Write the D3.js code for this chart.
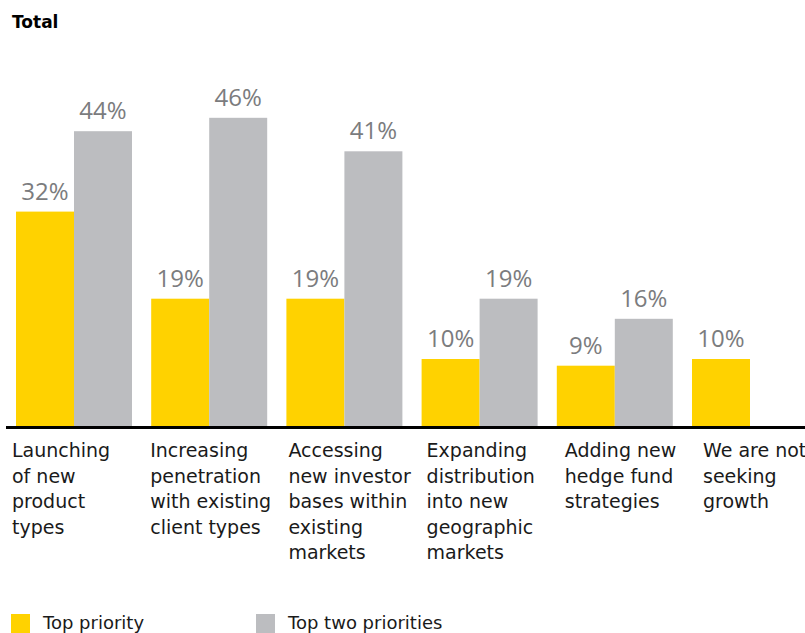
<!DOCTYPE html>
<html>
<head>
<meta charset="utf-8">
<script src="https://cdn.jsdelivr.net/npm/d3@7"></script>
<style>
  body { margin: 0; background: #fff; }
  svg { display: block; }
</style>
</head>
<body>
<script>
// chart data
const categories = [
    ["Launching", "of new", "product", "types"],
    ["Increasing", "penetration", "with existing", "client types"],
    ["Accessing", "new investor", "bases within", "existing", "markets"],
    ["Expanding", "distribution", "into new", "geographic", "markets"],
    ["Adding new", "hedge fund", "strategies"],
    ["We are not", "seeking", "growth"]
];
const topPriority = [32, 19, 19, 10, 9, 10];
const topTwo = [44, 46, 41, 19, 16, null];
const seriesNames = ["Top priority", "Top two priorities"];
const colors = ["#FFD200", "#BCBDC0"];

const width = 805, height = 633;
const baseY = 426;

let svg = d3.select("body")
    .append("svg")
    .attr("width", width)
    .attr("height", height);

// title
svg.append("text")
    .attr("x", 12)
    .attr("y", 28)
    .attr("font-family", "DejaVu Sans")
    .attr("font-weight", "bold")
    .attr("font-size", 17)
    .attr("fill", "#000")
    .text("Total");

// scales
const step = 135.2, gap = 19.2;
let x0 = d3.scaleBand()
    .domain(d3.range(categories.length))
    .range([16, 16 + step * categories.length - gap])
    .paddingInner(gap / step)
    .paddingOuter(0);

let x1 = d3.scaleBand()
    .domain([0, 1])
    .range([0, x0.bandwidth()]);

let y = d3.scaleLinear()
    .domain([0, 46])
    .range([baseY, baseY - 46 * 6.7]);

// label grid is a bit wider than the bar grid in the original
let xLab = d3.scaleLinear()
    .domain([0, 5])
    .range([12, 703]);

let rows = categories.map((c, i) => ({ i, vals: [topPriority[i], topTwo[i]] }));

let groups = svg.append("g").selectAll("g")
    .data(rows)
    .enter()
    .append("g")
    .attr("transform", d => `translate(${x0(d.i)},0)`);

let cells = groups.selectAll("g.cell")
    .data(d => d.vals.map((v, s) => ({ v, s })).filter(e => e.v != null))
    .enter()
    .append("g")
    .attr("class", "cell");

cells.append("rect")
    .attr("x", d => x1(d.s))
    .attr("y", d => y(d.v))
    .attr("width", x1.bandwidth())
    .attr("height", d => baseY - y(d.v))
    .attr("fill", d => colors[d.s]);

cells.append("text")
    .attr("x", d => x1(d.s) + x1.bandwidth() / 2)
    .attr("y", d => y(d.v) - 12)
    .attr("text-anchor", "middle")
    .attr("font-family", "Open Sans")
    .attr("font-size", 24)
    .attr("fill", "#7b7c7e")
    .text(d => d.v + "%");

// baseline
svg.append("line")
    .attr("x1", 6)
    .attr("x2", width)
    .attr("y1", baseY + 1.5)
    .attr("y2", baseY + 1.5)
    .attr("stroke", "#000")
    .attr("stroke-width", 3);

// category labels
let labels = svg.append("g").selectAll("text")
    .data(categories)
    .enter()
    .append("text")
    .attr("font-family", "DejaVu Sans")
    .attr("font-size", 19)
    .attr("fill", "#1a1a1a");

labels.selectAll("tspan")
    .data((d, i) => d.map(line => ({ line, i })))
    .enter()
    .append("tspan")
    .attr("x", d => xLab(d.i))
    .attr("y", (d, j) => 457 + j * 25.5)
    .text(d => d.line);

// legend
let legend = svg.append("g").selectAll("g")
    .data(seriesNames)
    .enter()
    .append("g")
    .attr("transform", (d, i) => `translate(${[11, 256][i]},614)`);

legend.append("rect")
    .attr("width", 19)
    .attr("height", 19)
    .attr("fill", (d, i) => colors[i]);

legend.append("text")
    .attr("x", 32)
    .attr("y", 15)
    .attr("font-family", "DejaVu Sans")
    .attr("font-size", 18)
    .attr("fill", "#1a1a1a")
    .text(d => d);
</script>
</body>
</html>
